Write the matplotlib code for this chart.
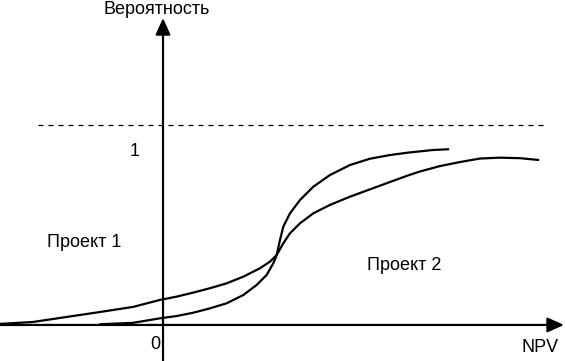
import matplotlib
matplotlib.use("Agg")
import matplotlib.pyplot as plt

plt.rcParams['font.family'] = ['Liberation Sans', 'DejaVu Sans']

# Project curves (NPV in arbitrary units, probability 0..1)
npv_steep = [-1.575, -0.75, -0.075, 0.343, 0.758, 1.175, 1.593, 2.008, 2.343, 2.593,
             2.758, 2.843, 2.925, 3.008, 3.175, 3.425, 3.758, 4.175, 4.675, 5.175,
             5.675, 6.133, 6.758, 7.133]
prob_steep = [0.004, 0.012, 0.038, 0.051, 0.070, 0.095, 0.124, 0.171, 0.229, 0.286,
              0.353, 0.400, 0.486, 0.562, 0.638, 0.714, 0.790, 0.857, 0.914, 0.950,
              0.971, 0.985, 1.000, 1.004]

npv_gentle = [-4.075, -3.25, -2.4, -1.575, -0.75, -0.075, 0.343, 0.758, 1.175, 1.593,
              2.008, 2.425, 2.675, 2.843, 3.008, 3.175, 3.425, 3.758, 4.175, 4.675,
              5.175, 5.675, 6.133, 6.425, 6.925, 7.425, 7.925, 8.425, 8.925, 9.383]
prob_gentle = [0.006, 0.017, 0.046, 0.074, 0.103, 0.143, 0.162, 0.185, 0.210, 0.238,
               0.276, 0.324, 0.362, 0.400, 0.467, 0.524, 0.581, 0.638, 0.686, 0.733,
               0.775, 0.817, 0.855, 0.877, 0.908, 0.931, 0.951, 0.956, 0.953, 0.943]

dashed_level = 1.143
y_label = "Вероятность"
x_label = "NPV"
labels = ["Проект 1", "Проект 2"]

fig = plt.figure(figsize=(5.65, 3.61), dpi=100)
ax = fig.add_axes([0, 0, 1, 1])
xmin, xmax = -4.075, 10.05
ymin, ymax = -0.206, 1.857
ax.set_xlim(xmin, xmax)
ax.set_ylim(ymin, ymax)
ax.axis('off')

# axes with arrows
ax.annotate('', xy=(10.025, 0), xytext=(xmin, 0),
            arrowprops=dict(arrowstyle='-|>,head_length=1.0,head_width=0.45',
                            color='black', lw=1.6, shrinkA=0, shrinkB=0))
ax.annotate('', xy=(0, 1.754), xytext=(0, ymin),
            arrowprops=dict(arrowstyle='-|>,head_length=1.0,head_width=0.45',
                            color='black', lw=1.6, shrinkA=0, shrinkB=0))

ax.plot([-3.125, 9.525], [dashed_level, dashed_level], color='black', lw=0.9,
        linestyle=(0, (4, 4)))

ax.plot(npv_steep, prob_steep, color='black', lw=1.6, solid_capstyle='round',
        solid_joinstyle='round')
ax.plot(npv_gentle, prob_gentle, color='black', lw=1.6, solid_capstyle='round',
        solid_joinstyle='round')

fs = 13
ax.text(-0.15, 1.8, y_label, ha='center', va='center', fontsize=fs)
ax.text(-0.7, 0.989, "1", ha='center', va='center', fontsize=fs)
ax.text(-0.2, -0.114, "0", ha='center', va='center', fontsize=fs)
ax.text(9.425, -0.126, x_label, ha='center', va='center', fontsize=fs)
ax.text(-1.975, 0.469, labels[0], ha='center', va='center', fontsize=fs)
ax.text(6.025, 0.337, labels[1], ha='center', va='center', fontsize=fs)

fig.savefig("out.png", dpi=100)
